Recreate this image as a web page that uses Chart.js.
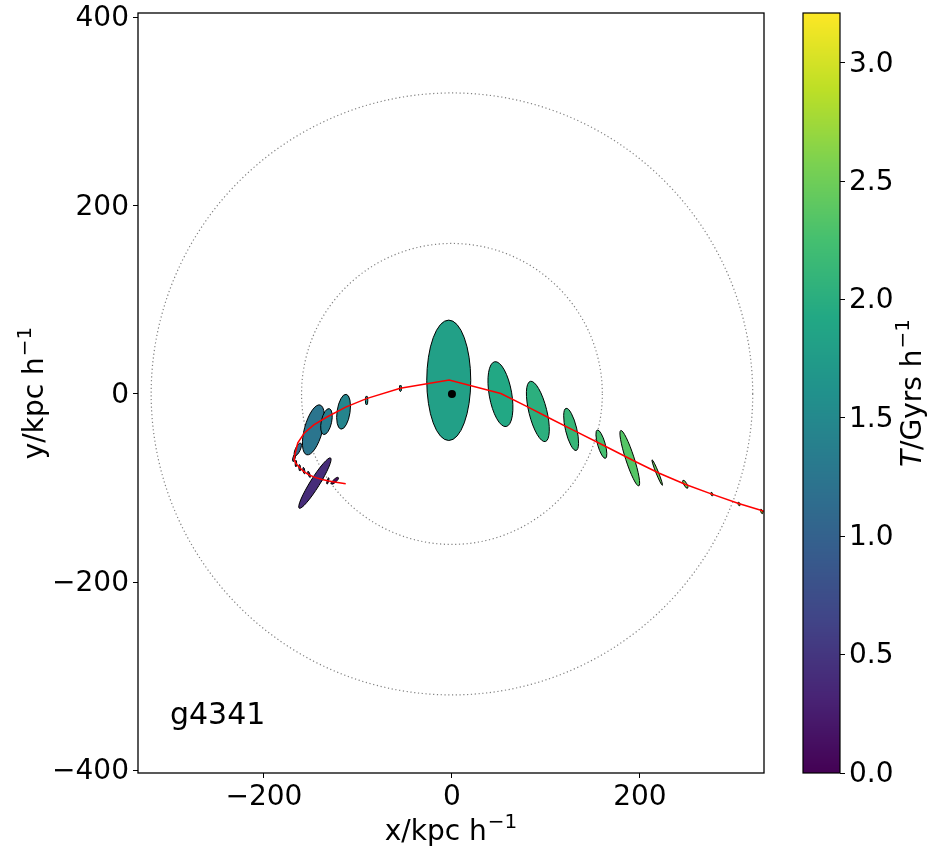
<!DOCTYPE html>
<html>
<head>
<meta charset="utf-8">
<script src="https://cdn.jsdelivr.net/npm/chart.js@4.4.0/dist/chart.umd.min.js"></script>
<style>
  body { margin: 0; background: #fff; }
  #wrap { position: relative; width: 945px; height: 860px; }
  #orbit { position: absolute; left: 0; top: 0; }
  #cbar { position: absolute; left: 760px; top: 0; }
</style>
</head>
<body>
<div id="wrap">
  <canvas id="orbit" width="945" height="860"></canvas>
  <canvas id="cbar" width="185" height="860"></canvas>
</div>
<script>
//orbit of the subhalo (red line), kpc/h
const orbitX = [-113, -125, -131, -138, -145, -152, -157.5, -162, -166, -168, -166.5, -164, -157, -147, -133, -113, -91, -55, -3, 52, 80, 104, 128, 160, 195, 220, 248, 276.5, 305, 329.5, 358];
const orbitY = [-95.5, -93.5, -92.5, -91, -89, -86, -82.5, -78.5, -74, -69, -62, -52, -41.5, -33, -24.5, -14, -5, 6, 14.8, 0.5, -13.5, -25.8, -38, -54, -71.8, -84, -96, -106.5, -116.5, -124, -132];
//snapshot ellipses: centre, semi axes, angle of major axis (deg), time
const ellX = [-124.6, -132, -138.5, -145.8, -152, -157.5, -162, -166, -168, -164, -147.4, -133.5, -115.3, -90.8, -54.8, -3.4, 51.6, 91.4, 126.8, 159, 189.2, 218.4, 248.3, 276.5, 305.4, 329.5];
const ellY = [-92.3, -92.5, -90.5, -94.8, -85.5, -81.5, -78.5, -74, -68, -59, -38.2, -29.4, -18.9, -6.9, 6, 14.5, -0.2, -18.6, -37.7, -53.4, -68.3, -83.6, -96, -106.5, -117, -124.9];
const ellA = [5, 3.5, 3.5, 31.5, 3.5, 3.5, 3.5, 3.5, 4, 7.4, 27.4, 14.1, 18.7, 4.8, 3.5, 64, 35, 33, 23, 15.7, 31, 14.6, 4.9, 2, 2, 2.5];
const ellB = [1.6, 0.8, 0.8, 5, 0.9, 0.9, 0.9, 0.8, 1.2, 2.6, 9.6, 5.5, 6.9, 1.3, 1.1, 23.4, 12, 9.5, 6, 4, 4.5, 1.3, 1.6, 1, 1, 1];
const ellAngle = [42, 75, 70, 58, 110, 100, 95, 90, 75, 65, 75, 77.7, 81.5, 90, 90, 90, 100, 104, 103.5, 106, 108, 112, 120, 110, 110, 110];
const ellT = [0.1, 0.2, 0.3, 0.4, 0.5, 0.6, 0.7, 0.8, 0.9, 1.1, 1.25, 1.35, 1.45, 1.6, 1.7, 1.82, 1.93, 2.02, 2.12, 2.25, 2.35, 2.45, 2.55, 2.65, 2.75, 2.85];
//host centre and reference radii
const hostX = [0];
const hostY = [0];
const circleR = [160, 320];
//ticks
const xTicks = [-200, 0, 200];
const yTicks = [-400, -200, 0, 200, 400];
const cbarTicks = [0, 0.5, 1, 1.5, 2, 2.5, 3];
const tMax = 3.21;
const haloName = "g4341";

const FONT = "DejaVu Sans";
const viridis = ["#440154", "#482475", "#414487", "#355f8d", "#2a788e", "#21918c", "#22a884", "#44bf70", "#7ad151", "#bddf26", "#fde725"];
const hexRgb = (h) => [1, 3, 5].map((i) => parseInt(h.substr(i, 2), 16));
function viridisColor(f) {
  f = Math.min(1, Math.max(0, f)) * (viridis.length - 1);
  const i = Math.min(Math.floor(f), viridis.length - 2);
  const t = f - i;
  const a = hexRgb(viridis[i]), b = hexRgb(viridis[i + 1]);
  const c = a.map((v, k) => Math.round(v + (b[k] - v) * t));
  return `rgb(${c[0]},${c[1]},${c[2]})`;
}
const minus = (v) => (v < 0 ? "\u2212" + Math.abs(v) : String(v));

//draw a label like "x/kpc h^-1" centred at (cx, baseline), optionally rotated
function drawTitle(ctx, parts, cx, cy, rotate) {
  const fontOf = (p) => (p.sup ? `20px "${FONT}"` : `${p.italic ? "italic " : ""}28px "${FONT}"`);
  let total = 0;
  parts.forEach((p) => { ctx.font = fontOf(p); p.w = ctx.measureText(p.text).width + (p.sup ? 1 : 0); total += p.w; });
  ctx.save();
  ctx.translate(cx, cy);
  if (rotate) ctx.rotate(-Math.PI / 2);
  ctx.fillStyle = "#000";
  ctx.textBaseline = "alphabetic";
  let x0 = -total / 2;
  parts.forEach((p) => {
    ctx.font = fontOf(p);
    ctx.fillText(p.text, x0 + (p.sup ? 1 : 0), p.sup ? -12 : 0);
    x0 += p.w;
  });
  ctx.restore();
}

//circles, ellipses, frame and labels
const orbitPlugin = {
  id: "orbitExtras",
  beforeDatasetsDraw(chart) {
    const { ctx, chartArea, scales: { x, y } } = chart;
    ctx.save();
    ctx.beginPath();
    ctx.rect(chartArea.left, chartArea.top, chartArea.width, chartArea.height);
    ctx.clip();
    const cx = x.getPixelForValue(0), cy = y.getPixelForValue(0);
    ctx.strokeStyle = "#808080";
    ctx.lineWidth = 1.2;
    ctx.setLineDash([1.2, 2.6]);
    circleR.forEach((r) => {
      const rx = x.getPixelForValue(r) - cx;
      const ry = cy - y.getPixelForValue(r);
      ctx.beginPath();
      ctx.ellipse(cx, cy, rx, ry, 0, 0, 2 * Math.PI);
      ctx.stroke();
    });
    ctx.setLineDash([]);
    for (let i = 0; i < ellX.length; i++) {
      const phi = (ellAngle[i] * Math.PI) / 180;
      const px = x.getPixelForValue(ellX[i]), py = y.getPixelForValue(ellY[i]);
      const ux = x.getPixelForValue(ellX[i] + ellA[i] * Math.cos(phi)) - px;
      const uy = y.getPixelForValue(ellY[i] + ellA[i] * Math.sin(phi)) - py;
      const vx = x.getPixelForValue(ellX[i] - ellB[i] * Math.sin(phi)) - px;
      const vy = y.getPixelForValue(ellY[i] + ellB[i] * Math.cos(phi)) - py;
      ctx.save();
      ctx.beginPath();
      ctx.transform(ux, uy, vx, vy, px, py);
      ctx.arc(0, 0, 1, 0, 2 * Math.PI);
      ctx.restore();
      ctx.fillStyle = viridisColor(ellT[i] / tMax);
      ctx.fill();
      ctx.strokeStyle = "#000";
      ctx.lineWidth = 1;
      ctx.stroke();
    }
    ctx.restore();
  },
  afterDraw(chart) {
    const { ctx, chartArea } = chart;
    ctx.save();
    ctx.strokeStyle = "#000";
    ctx.lineWidth = 1.3;
    ctx.strokeRect(chartArea.left, chartArea.top, chartArea.width, chartArea.height);
    ctx.fillStyle = "#000";
    ctx.font = `30px "${FONT}"`;
    ctx.textBaseline = "alphabetic";
    ctx.fillText(haloName, chartArea.left + 0.051 * chartArea.width, chartArea.bottom - 0.0645 * chartArea.height);
    ctx.restore();
    const mid = (chartArea.left + chartArea.right) / 2;
    drawTitle(ctx, [{ text: "x/kpc h" }, { text: "\u22121", sup: true }], mid, 840, false);
    drawTitle(ctx, [{ text: "y/kpc h" }, { text: "\u22121", sup: true }], 43, (chartArea.top + chartArea.bottom) / 2, true);
  },
};

const tickFont = { family: FONT, size: 28 };
const fixAxis = (size, horizontal) => (s) => {
  if (horizontal) s.height = size; else s.width = size;
  s.paddingTop = 0; s.paddingBottom = 0; s.paddingLeft = 0; s.paddingRight = 0;
};

new Chart(document.getElementById("orbit"), {
  type: "scatter",
  data: {
    datasets: [
      {
        data: orbitX.map((v, i) => ({ x: v, y: orbitY[i] })),
        showLine: true,
        borderColor: "#ff0000",
        borderWidth: 1.5,
        pointRadius: 0,
        tension: 0,
      },
      {
        data: hostX.map((v, i) => ({ x: v, y: hostY[i] })),
        pointRadius: 4,
        backgroundColor: "#000",
        borderColor: "#000",
        borderWidth: 0,
      },
    ],
  },
  options: {
    responsive: false,
    animation: false,
    devicePixelRatio: 1,
    layout: { padding: { left: 0, top: 13, right: 181, bottom: 0 } },
    plugins: { legend: { display: false }, tooltip: { enabled: false } },
    scales: {
      x: {
        type: "linear",
        min: -334,
        max: 332,
        afterFit: fixAxis(87, true),
        afterBuildTicks: (s) => { s.ticks = xTicks.map((v) => ({ value: v })); },
        ticks: { font: tickFont, color: "#000", padding: 3, maxRotation: 0, callback: minus },
        grid: { drawOnChartArea: false, drawTicks: true, tickLength: 5, color: "#000" },
        border: { display: false },
      },
      y: {
        type: "linear",
        min: -403,
        max: 405,
        afterFit: fixAxis(138, false),
        afterBuildTicks: (s) => { s.ticks = yTicks.map((v) => ({ value: v })); },
        ticks: { font: tickFont, color: "#000", padding: 4, labelOffset: 1.5, callback: minus },
        grid: { drawOnChartArea: false, drawTicks: true, tickLength: 5, color: "#000" },
        border: { display: false },
      },
    },
  },
  plugins: [orbitPlugin],
});

//colour bar
const cbarPlugin = {
  id: "cbarFill",
  beforeDatasetsDraw(chart) {
    const { ctx, chartArea, scales: { y } } = chart;
    ctx.save();
    for (let py = Math.floor(chartArea.top); py < chartArea.bottom; py++) {
      ctx.fillStyle = viridisColor(y.getValueForPixel(py + 0.5) / tMax);
      ctx.fillRect(chartArea.left, py, chartArea.width, 1);
    }
    ctx.restore();
  },
  afterDraw(chart) {
    const { ctx, chartArea } = chart;
    ctx.save();
    ctx.strokeStyle = "#000";
    ctx.lineWidth = 1.2;
    ctx.strokeRect(chartArea.left, chartArea.top, chartArea.width, chartArea.height);
    ctx.restore();
    drawTitle(ctx, [{ text: "T", italic: true }, { text: "/Gyrs h" }, { text: "\u22121", sup: true }], 161, (chartArea.top + chartArea.bottom) / 2, true);
  },
};

new Chart(document.getElementById("cbar"), {
  type: "scatter",
  data: { datasets: [] },
  options: {
    responsive: false,
    animation: false,
    devicePixelRatio: 1,
    layout: { padding: { left: 43, top: 13, right: 0, bottom: 87 } },
    plugins: { legend: { display: false }, tooltip: { enabled: false } },
    scales: {
      x: { display: false, min: 0, max: 1 },
      y: {
        type: "linear",
        position: "right",
        min: 0,
        max: tMax,
        afterFit: fixAxis(105, false),
        afterBuildTicks: (s) => { s.ticks = cbarTicks.map((v) => ({ value: v })); },
        ticks: { font: tickFont, color: "#000", padding: 4, labelOffset: 1.5, callback: (v) => v.toFixed(1) },
        grid: { drawOnChartArea: false, drawTicks: true, tickLength: 5, color: "#000" },
        border: { display: false },
      },
    },
  },
  plugins: [cbarPlugin],
});
</script>
</body>
</html>
